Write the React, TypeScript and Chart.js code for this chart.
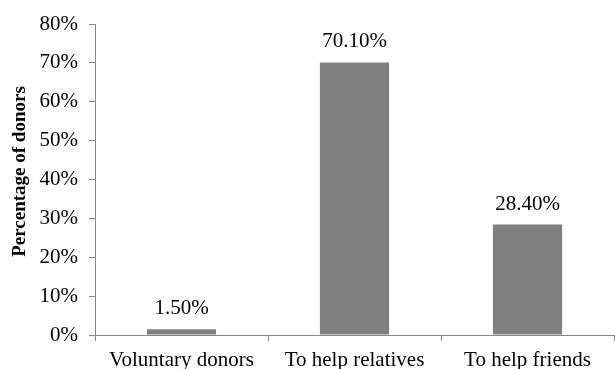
import React, { useEffect, useRef } from "react";
import { Chart, registerables } from "chart.js";

Chart.register(...registerables);

const categories = ["Voluntary donors", "To help relatives", "To help friends"];
const values = [1.5, 70.1, 28.4];
const valueLabels = ["1.50%", "70.10%", "28.40%"];
const yTitle = "Percentage of donors";

const FONT = "'Liberation Serif', 'Times New Roman', serif";

const valueLabelPlugin = {
  id: "valueLabels",
  afterDatasetsDraw(chart: any) {
    const ctx = chart.ctx;
    const meta = chart.getDatasetMeta(0);
    ctx.save();
    ctx.font = `21px ${FONT}`;
    ctx.fillStyle = "#000";
    ctx.textAlign = "center";
    ctx.textBaseline = "alphabetic";
    meta.data.forEach((bar: any, i: number) => {
      ctx.fillText(valueLabels[i], bar.x, bar.y - 15);
    });
    ctx.restore();
  },
};

const yTitlePlugin = {
  id: "yTitle",
  afterDraw(chart: any) {
    const ctx = chart.ctx;
    const area = chart.chartArea;
    ctx.save();
    ctx.font = `bold 19px ${FONT}`;
    ctx.fillStyle = "#000";
    ctx.textAlign = "center";
    ctx.textBaseline = "alphabetic";
    ctx.translate(25, (area.top + area.bottom) / 2 - 8);
    ctx.rotate(-Math.PI / 2);
    ctx.fillText(yTitle, 0, 0);
    ctx.restore();
  },
};

export default function App() {
  const ref = useRef<HTMLCanvasElement | null>(null);
  useEffect(() => {
    document.body.style.margin = "0";
    const chart = new Chart(ref.current!, {
      type: "bar",
      data: {
        labels: categories,
        datasets: [
          {
            data: values,
            backgroundColor: "#808080",
            barPercentage: 0.4,
            categoryPercentage: 1,
          },
        ],
      },
      options: {
        animation: false,
        responsive: false,
        maintainAspectRatio: false,
        layout: { padding: { top: 24, right: 1, left: 0, bottom: 0 } },
        plugins: { legend: { display: false }, tooltip: { enabled: false } },
        scales: {
          x: {
            offset: true,
            grid: {
              offset: true,
              drawOnChartArea: false,
              drawTicks: true,
              tickLength: 6,
              color: "#888888",
            },
            border: { display: true, color: "#888888", width: 1 },
            ticks: {
              color: "#000",
              font: { family: FONT, size: 21 },
              padding: 7,
              maxRotation: 0,
              autoSkip: false,
            },
            afterFit(scale: any) {
              scale.height = 34;
            },
          },
          y: {
            min: 0,
            max: 80,
            ticks: {
              stepSize: 10,
              color: "#000",
              font: { family: FONT, size: 21 },
              padding: 11,
              callback: (v: any) => `${v}%`,
            },
            grid: {
              drawOnChartArea: false,
              drawTicks: true,
              tickLength: 6,
              color: "#888888",
            },
            border: { display: true, color: "#888888", width: 1 },
            afterFit(scale: any) {
              scale.width = 95;
            },
          },
        },
      },
      plugins: [valueLabelPlugin, yTitlePlugin],
    });
    return () => chart.destroy();
  }, []);
  return (
    <div style={{ width: 615, height: 369, position: "relative" }}>
      <canvas ref={ref} width={615} height={369} style={{ display: "block" }} />
    </div>
  );
}
